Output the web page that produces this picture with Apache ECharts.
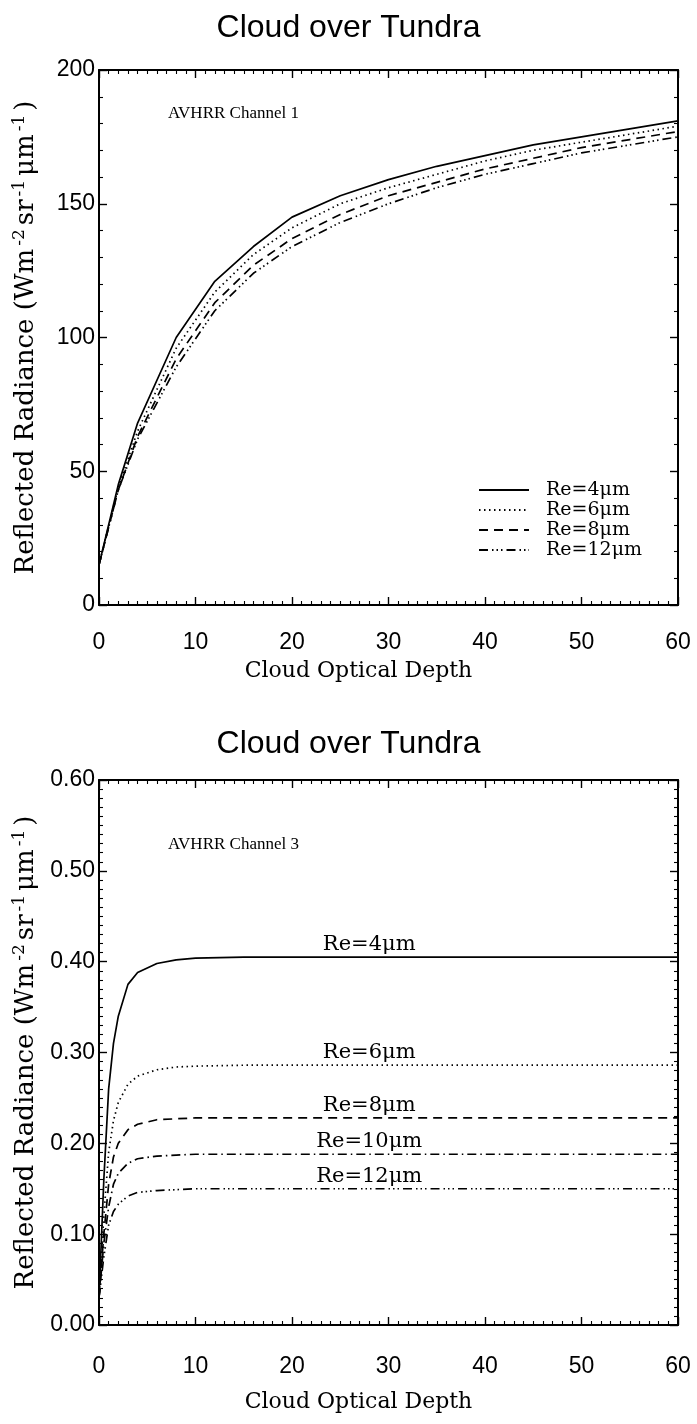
<!DOCTYPE html>
<html>
<head>
<meta charset="utf-8">
<script src="https://cdn.jsdelivr.net/npm/echarts@6/dist/echarts.min.js"></script>
<style>
html,body{margin:0;padding:0;background:#fff;}
#c{width:697px;height:1424px;}
</style>
</head>
<body>
<div id="c"></div>
<script>
// ---- Top chart: AVHRR Channel 1 ----
const ch1Depth = [0, 2, 4, 8, 12, 16, 20, 25, 30, 35, 40, 45, 50, 55, 60];
const ch1Re4  = [15, 45, 68, 100, 121, 134, 145, 153, 159, 164, 168, 172, 175, 178, 181];
const ch1Re6  = [15, 44, 65, 96, 117, 131, 141, 150, 156, 161, 166, 170, 173, 176, 179];
const ch1Re8  = [15, 43, 63, 92, 113, 127, 137, 146, 153, 158, 163, 167, 171, 174, 177];
const ch1Re12 = [15, 43, 62, 89, 110, 124, 134, 143, 150, 156, 161, 165, 169, 172, 175];
const ch1Names = ['Re=4\u03bcm', 'Re=6\u03bcm', 'Re=8\u03bcm', 'Re=12\u03bcm'];

// ---- Bottom chart: AVHRR Channel 3 ----
const ch3Depth = [0, 0.5, 1, 1.5, 2, 3, 4, 6, 8, 10, 15, 20, 28, 40, 50, 60];
const ch3Re4  = [0.03, 0.16, 0.26, 0.31, 0.34, 0.375, 0.388, 0.398, 0.402, 0.404, 0.405, 0.405, 0.405, 0.405, 0.405, 0.405];
const ch3Re6  = [0.03, 0.12, 0.19, 0.225, 0.245, 0.265, 0.274, 0.281, 0.284, 0.285, 0.286, 0.286, 0.286, 0.286, 0.286, 0.286];
const ch3Re8  = [0.03, 0.10, 0.155, 0.185, 0.20, 0.215, 0.221, 0.226, 0.227, 0.228, 0.228, 0.228, 0.228, 0.228, 0.228, 0.228];
const ch3Re10 = [0.03, 0.09, 0.13, 0.155, 0.167, 0.178, 0.183, 0.186, 0.187, 0.188, 0.188, 0.188, 0.188, 0.188, 0.188, 0.188];
const ch3Re12 = [0.03, 0.075, 0.11, 0.125, 0.133, 0.142, 0.146, 0.148, 0.149, 0.150, 0.150, 0.150, 0.150, 0.150, 0.150, 0.150];
const ch3Names = ['Re=4\u03bcm', 'Re=6\u03bcm', 'Re=8\u03bcm', 'Re=10\u03bcm', 'Re=12\u03bcm'];
const ch3LabelDepth = 28;

const SANS = 'Liberation Sans';
const SERIF = 'DejaVu Serif';
const styles = {
  solid: 'solid',
  dotted: [1.5, 3.5],
  dashed: [9, 6],
  dashdot: [9, 4, 1.5, 4],
  dash3dot: [9, 4, 1.5, 3, 1.5, 3, 1.5, 4]
};

function pairs(xs, ys) { return xs.map((x, i) => [x, ys[i]]); }

function xAx(grid, pos, showLabel, name, nameGap, labelMargin) {
  return {
    type: 'value', gridIndex: grid, position: pos, min: 0, max: 60, interval: 10,
    axisLine: { show: true, onZero: false, lineStyle: { color: '#000', width: 2 } },
    axisTick: { show: true, inside: true, length: 8, lineStyle: { color: '#000', width: 1.4 } },
    minorTick: { show: true, splitNumber: 10, length: 4, lineStyle: { color: '#000', width: 1.1 } },
    splitLine: { show: false },
    axisLabel: { show: showLabel, margin: labelMargin || 26, fontFamily: SANS, fontSize: 23, color: '#000' },
    name: name || '', nameLocation: 'middle', nameGap: nameGap || 54,
    nameTextStyle: { fontFamily: SERIF, fontSize: 22, color: '#000', padding: [0, 60, 0, 0] }
  };
}
const yNameRich = '{n|Reflected Radiance (Wm}{s|-2}{n|sr}{s|-1}{n|\u03bcm}{s|-1}{n|)}';
function yAx(grid, pos, showLabel, max, interval, minorSplit, fmt, withName) {
  return {
    type: 'value', gridIndex: grid, position: pos, min: 0, max: max, interval: interval,
    axisLine: { show: true, onZero: false, lineStyle: { color: '#000', width: 2 } },
    axisTick: { show: true, inside: true, length: 8, lineStyle: { color: '#000', width: 1.4 } },
    minorTick: { show: true, splitNumber: minorSplit, length: 4, lineStyle: { color: '#000', width: 1.1 } },
    splitLine: { show: false },
    axisLabel: { show: showLabel, margin: 4, fontFamily: SANS, fontSize: 23, color: '#000', formatter: fmt },
    name: withName ? yNameRich : '', nameLocation: 'middle', nameGap: 58,
    nameTextStyle: {
      fontFamily: SERIF, fontSize: 26, color: '#000',
      rich: {
        n: { fontFamily: SERIF, fontSize: 26, color: '#000', lineHeight: 30 },
        s: { fontFamily: SERIF, fontSize: 17, color: '#000', verticalAlign: 'top', lineHeight: 30, padding: [0, 4, 0, 3] }
      }
    }
  };
}

const ch1Data = [ch1Re4, ch1Re6, ch1Re8, ch1Re12];
const ch1Styles = [styles.solid, styles.dotted, styles.dashed, styles.dash3dot];
const ch3Data = [ch3Re4, ch3Re6, ch3Re8, ch3Re10, ch3Re12];
const ch3Styles = [styles.solid, styles.dotted, styles.dashed, styles.dashdot, styles.dash3dot];

const series = [];
ch1Data.forEach((ys, i) => {
  series.push({
    type: 'line', name: ch1Names[i], xAxisIndex: 0, yAxisIndex: 0,
    data: pairs(ch1Depth, ys), symbol: 'none', smooth: false, silent: true,
    itemStyle: { color: '#000' },
    lineStyle: { color: '#000', width: 1.7, type: ch1Styles[i] }
  });
});
ch3Data.forEach((ys, i) => {
  const d = pairs(ch3Depth, ys).map((p) => {
    if (p[0] === ch3LabelDepth) {
      return { value: p, label: { show: true, position: 'top', distance: 2, formatter: ch3Names[i],
        fontFamily: SERIF, fontSize: 21, color: '#000' } };
    }
    return p;
  });
  series.push({
    type: 'line', name: 'c3_' + ch3Names[i], xAxisIndex: 2, yAxisIndex: 2,
    data: d, symbol: 'circle', symbolSize: 0, showSymbol: true, showAllSymbol: true,
    itemStyle: { color: 'rgba(0,0,0,0)' },
    smooth: false, silent: true,
    lineStyle: { color: '#000', width: 1.7, type: ch3Styles[i] }
  });
});

const option = {
  animation: false,
  backgroundColor: '#fff',
  title: [
    { text: 'Cloud over Tundra', left: 'center', top: 7,
      textStyle: { fontFamily: SANS, fontSize: 32, fontWeight: 'normal', color: '#000' } },
    { text: 'AVHRR Channel 1', left: 163, top: 100,
      textStyle: { fontFamily: 'Liberation Serif', fontSize: 17, fontWeight: 'normal', color: '#000' } },
    { text: 'Cloud over Tundra', left: 'center', top: 723,
      textStyle: { fontFamily: SANS, fontSize: 32, fontWeight: 'normal', color: '#000' } },
    { text: 'AVHRR Channel 3', left: 163, top: 831,
      textStyle: { fontFamily: 'Liberation Serif', fontSize: 17, fontWeight: 'normal', color: '#000' } }
  ],
  legend: {
    data: ch1Names, orient: 'vertical', left: 478, top: 480, padding: 0,
    itemWidth: 50, itemHeight: 10, itemGap: 0,
    itemStyle: { opacity: 0 },
    textStyle: { fontFamily: SERIF, fontSize: 19, lineHeight: 20, color: '#000', padding: [0, 0, 0, 12] },
    selectedMode: false
  },
  grid: [
    { left: 99, right: 19, top: 70, height: 535 },
    { left: 99, right: 19, top: 780, height: 545 }
  ],
  xAxis: [
    xAx(0, 'bottom', true, 'Cloud Optical Depth', 55, 26),
    xAx(0, 'top', false),
    xAx(1, 'bottom', true, 'Cloud Optical Depth', 66, 30),
    xAx(1, 'top', false)
  ],
  yAxis: [
    yAx(0, 'left', true, 200, 50, 5, (v) => String(v), true),
    yAx(0, 'right', false, 200, 50, 5, (v) => String(v), false),
    yAx(1, 'left', true, 0.6, 0.1, 10, (v) => v.toFixed(2), true),
    yAx(1, 'right', false, 0.6, 0.1, 10, (v) => v.toFixed(2), false)
  ],
  series: series
};

const chart = echarts.init(document.getElementById('c'), null, { renderer: 'canvas' });
chart.setOption(option);
</script>
</body>
</html>
